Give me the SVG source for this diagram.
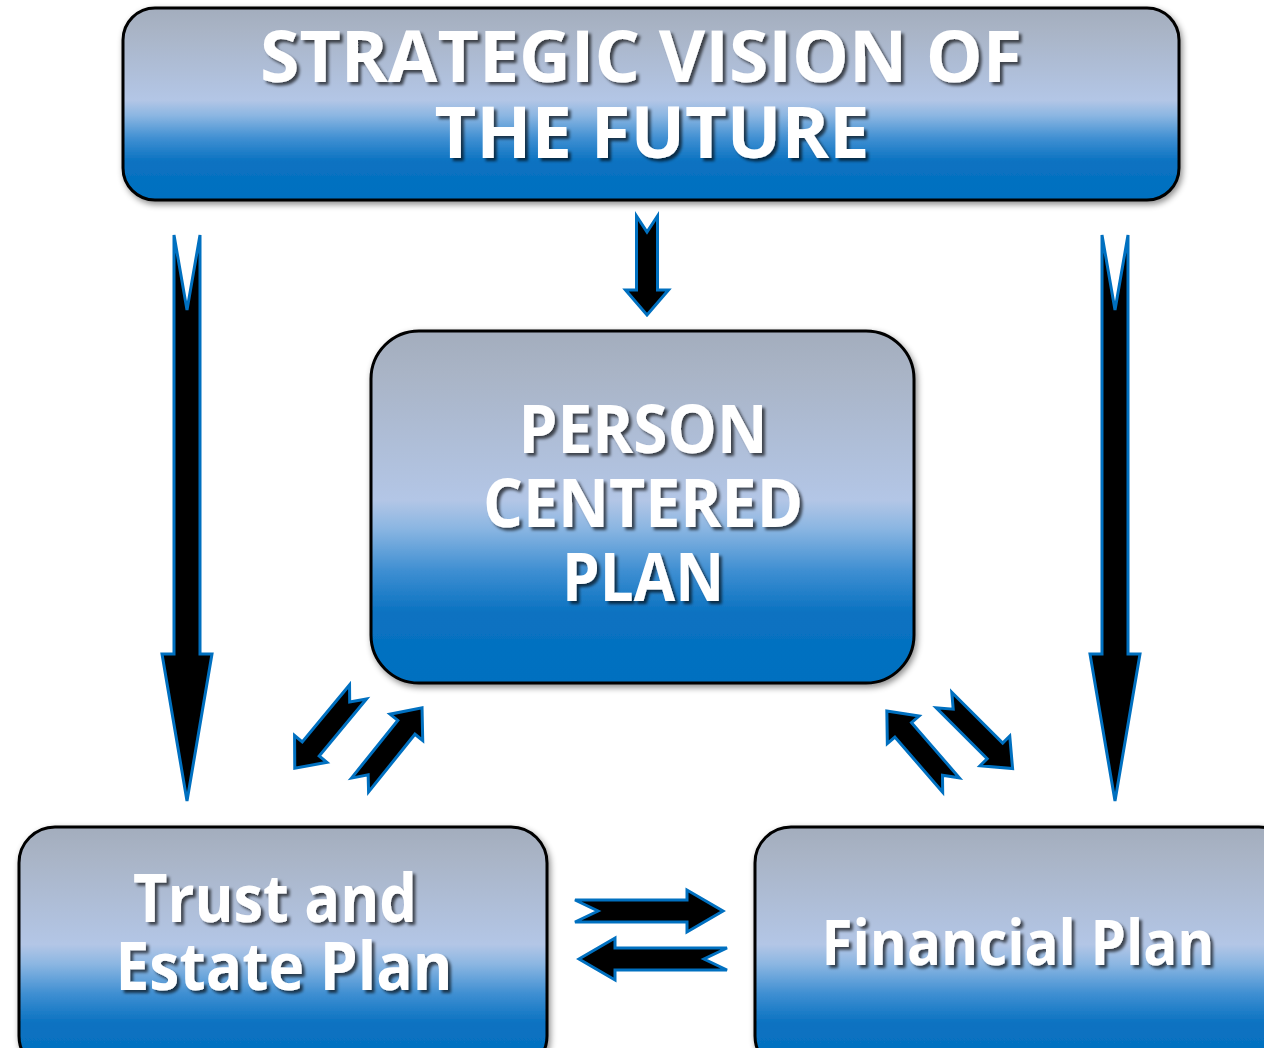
<svg xmlns="http://www.w3.org/2000/svg" width="1264" height="1048" viewBox="0 0 1264 1048">
<defs>
<linearGradient id="g" x1="0" y1="0" x2="0" y2="1">
<stop offset="0" stop-color="#a3adbd"/>
<stop offset="0.12" stop-color="#a9b4c6"/>
<stop offset="0.48" stop-color="#b3c6e6"/>
<stop offset="0.56" stop-color="#8bb6e2"/>
<stop offset="0.68" stop-color="#3f8fd2"/>
<stop offset="0.8" stop-color="#0a72c1"/>
<stop offset="1" stop-color="#0070c0"/>
</linearGradient>
<filter id="bs" x="-10%" y="-10%" width="120%" height="130%">
<feDropShadow dx="2" dy="3" stdDeviation="3" flood-color="#000" flood-opacity="0.45"/>
</filter>
<filter id="ts" x="-10%" y="-20%" width="120%" height="150%">
<feDropShadow dx="3" dy="3" stdDeviation="1.5" flood-color="#000" flood-opacity="0.65"/>
</filter>
<style>
.box{fill:url(#g);stroke:#000;stroke-width:3;filter:url(#bs)}
.t{font-family:"Open Sans","Noto Sans",sans-serif;font-weight:bold;fill:#fff;text-anchor:middle;filter:url(#ts)}
.a{fill:#000;stroke:#0070c0;stroke-width:3;stroke-linejoin:miter}
</style>
</defs>

<g id="node-strategic">
<rect class="box" x="123" y="8" width="1056" height="192" rx="32"/>
<text class="t" x="641" y="82" font-size="72" textLength="762" lengthAdjust="spacingAndGlyphs">STRATEGIC VISION OF</text>
<text class="t" x="652" y="158" font-size="72" textLength="435" lengthAdjust="spacingAndGlyphs">THE FUTURE</text>
</g>

<g id="node-person">
<rect class="box" x="371" y="331" width="543" height="352" rx="48"/>
<text class="t" x="643" y="453" font-size="66" textLength="249" lengthAdjust="spacingAndGlyphs">PERSON</text>
<text class="t" x="643" y="527" font-size="66" textLength="320" lengthAdjust="spacingAndGlyphs">CENTERED</text>
<text class="t" x="643" y="601" font-size="66" textLength="162" lengthAdjust="spacingAndGlyphs">PLAN</text>
</g>

<g id="node-trust">
<rect class="box" x="19" y="827" width="528" height="245" rx="36"/>
<text class="t" x="275" y="922" font-size="66" textLength="284" lengthAdjust="spacingAndGlyphs">Trust and</text>
<text class="t" x="284" y="990" font-size="66" textLength="337" lengthAdjust="spacingAndGlyphs">Estate Plan</text>
</g>

<g id="node-financial">
<rect class="box" x="755" y="827" width="540" height="245" rx="36"/>
<text class="t" x="1018" y="965" font-size="62" textLength="393" lengthAdjust="spacingAndGlyphs">Financial Plan</text>
</g>

<g id="connectors">
<polygon class="a" transform="translate(187,235) rotate(90)" points="0,-13 419,-13 419,-25 566,0 419,25 419,13 0,13 75,0"/>
<polygon class="a" transform="translate(1115,235) rotate(90)" points="0,-13 419,-13 419,-25 566,0 419,25 419,13 0,13 75,0"/>
<polygon class="a" transform="translate(647,216) rotate(90)" points="0,-10.5 74,-10.5 74,-21.5 99,0 74,21.5 74,10.5 0,10.5 16,0"/>
<polygon class="a" transform="translate(358,692) rotate(129.7)" points="0,-11 74,-11 74,-21 99,0 74,21 74,11 0,11 13,0"/>
<polygon class="a" transform="translate(360,785) rotate(-51.2)" points="0,-11 74,-11 74,-21 99,0 74,21 74,11 0,11 13,0"/>
<polygon class="a" transform="translate(951,785) rotate(-130.9)" points="0,-11 73,-11 73,-21 98,0 73,21 73,11 0,11 13,0"/>
<polygon class="a" transform="translate(944,700) rotate(45)" points="0,-11 72,-11 72,-21 97,0 72,21 72,11 0,11 13,0"/>
<polygon class="a" transform="translate(575,911) rotate(0)" points="0,-11 112,-11 112,-21 148,0 112,21 112,11 0,11 23,0"/>
<polygon class="a" transform="translate(727,959) rotate(180)" points="0,-11 112,-11 112,-21 148,0 112,21 112,11 0,11 23,0"/>
</g>
</svg>
